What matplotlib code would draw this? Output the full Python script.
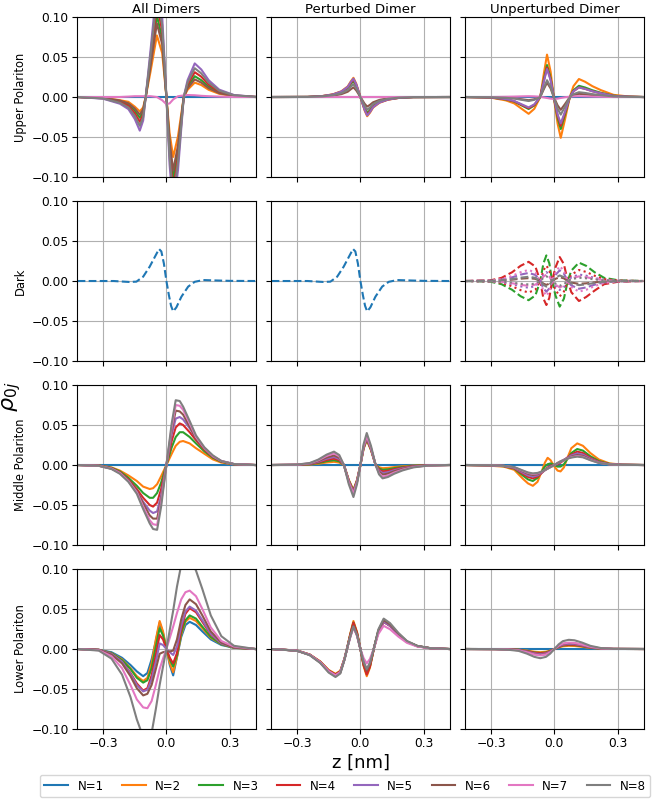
import matplotlib
matplotlib.use("Agg")
import matplotlib.pyplot as plt
from matplotlib.lines import Line2D

LABELS = ["N=1", "N=2", "N=3", "N=4", "N=5", "N=6", "N=7", "N=8"]
COLORS = ["C0", "C1", "C2", "C3", "C4", "C5", "C6", "C7"]
COL_TITLES = ["All Dimers", "Perturbed Dimer", "Unperturbed Dimer"]
ROW_TITLES = ["Upper Polariton", "Dark", "Middle Polariton", "Lower Polariton"]
X_TICKS = [-0.3, 0.0, 0.3]
Y_TICKS = [-0.10, -0.05, 0.00, 0.05, 0.10]

# ---------------- Upper polariton ----------------
Z_UP_ALL = [-0.42, -0.30, -0.22, -0.18, -0.15, -0.126, -0.11, -0.098, -0.075, -0.045, -0.02, 0.0,
            0.015, 0.032, 0.055, 0.082, 0.10, 0.134, 0.165, 0.20, 0.25, 0.32, 0.42]
UP_ALL = [
    [0, 0, 0, 0, 0, 0, 0, 0, 0, 0, 0, 0, 0, 0, 0, 0, 0, 0, 0, 0, 0, 0, 0],
    [0, -0.001, -0.004, -0.006, -0.012, -0.018, -0.013, 0, 0.032, 0.077, 0.055, 0, -0.045, -0.075, -0.049, 0, 0.009, 0.018, 0.015, 0.009, 0.004, 0.001, 0],
    [0, -0.0013, -0.0052, -0.0094, -0.0169, -0.026, -0.0182, 0, 0.043, 0.102, 0.073, 0, -0.061, -0.102, -0.066, 0, 0.013, 0.026, 0.021, 0.013, 0.0057, 0.0016, 0],
    [0, -0.0016, -0.0062, -0.0112, -0.0202, -0.031, -0.0217, 0, 0.048, 0.115, 0.083, 0, -0.069, -0.115, -0.075, 0, 0.0155, 0.031, 0.0254, 0.0155, 0.0068, 0.0019, 0.0002],
    [0, -0.0021, -0.0084, -0.0151, -0.0273, -0.042, -0.0294, 0, 0.059, 0.14, 0.101, 0, -0.084, -0.14, -0.091, 0, 0.021, 0.042, 0.0344, 0.021, 0.0092, 0.0025, 0.0002],
    [0, -0.0011, -0.0044, -0.0079, -0.0143, -0.022, -0.0154, 0, 0.039, 0.092, 0.066, 0, -0.055, -0.092, -0.060, 0, 0.011, 0.022, 0.018, 0.011, 0.0048, 0.0013, 0.0001],
    [0, 0, 0, 0.0005, 0.001, 0.001, 0.001, 0.001, 0.001, 0.0, -0.004, -0.009, -0.008, -0.003, 0.001, 0.002, 0.0025, 0.0022, 0.0015, 0.001, 0.0005, 0, 0],
    [0, -0.0018, -0.0072, -0.013, -0.0234, -0.036, -0.0252, 0, 0.053, 0.125, 0.09, 0, -0.075, -0.125, -0.081, 0, 0.018, 0.036, 0.0295, 0.018, 0.0079, 0.0022, 0.0002],
]

Z_UP_PERT = [-0.42, -0.25, -0.18, -0.13, -0.09, -0.06, -0.045, -0.033, -0.02, 0.0,
             0.02, 0.032, 0.045, 0.06, 0.09, 0.13, 0.18, 0.25, 0.42]
UP_PERT = [
    [0, 0, 0, 0, 0, 0, 0, 0, 0, 0, 0, 0, 0, 0, 0, 0, 0, 0, 0],
    [0, 0.0001, 0.0012, 0.0034, 0.0072, 0.0132, 0.0197, 0.024, 0.0168, 0, -0.0168, -0.024, -0.0197, -0.0132, -0.0072, -0.0034, -0.0012, -0.0001, 0],
    [0, 0.0001, 0.001, 0.0028, 0.006, 0.011, 0.0164, 0.020, 0.014, 0, -0.014, -0.020, -0.0164, -0.011, -0.006, -0.0028, -0.001, -0.0001, 0],
    [0, 0.0001, 0.0011, 0.0031, 0.0066, 0.0121, 0.018, 0.022, 0.0154, 0, -0.0154, -0.022, -0.018, -0.0121, -0.0066, -0.0031, -0.0011, -0.0001, 0],
    [0, 0.0001, 0.0012, 0.0032, 0.0069, 0.0127, 0.0189, 0.023, 0.0161, 0, -0.0161, -0.023, -0.0189, -0.0127, -0.0069, -0.0032, -0.0012, -0.0001, 0],
    [0, 0.0001, 0.0006, 0.0017, 0.0036, 0.0066, 0.0098, 0.012, 0.0084, 0, -0.0084, -0.012, -0.0098, -0.0066, -0.0036, -0.0017, -0.0006, -0.0001, 0],
    [0, 0, 0, 0, 0, 0, 0, 0, 0, 0, 0, 0, 0, 0, 0, 0, 0, 0, 0],
    [0, 0.0001, 0.0008, 0.0022, 0.0048, 0.0088, 0.0131, 0.016, 0.0112, 0, -0.0112, -0.016, -0.0131, -0.0088, -0.0048, -0.0022, -0.0008, -0.0001, 0],
]

Z_UP_UNPERT = [-0.42, -0.30, -0.23, -0.19, -0.155, -0.122, -0.095, -0.067, -0.05, -0.035, -0.018, -0.003,
               0.015, 0.030, 0.05, 0.073, 0.09, 0.116, 0.145, 0.18, 0.22, 0.28, 0.35, 0.42]
UP_UNPERT = [
    [0, 0, 0, 0, 0, 0, 0, 0, 0, 0, 0, 0, 0, 0, 0, 0, 0, 0, 0, 0, 0, 0, 0, 0],
    [0, -0.0008, -0.0042, -0.008, -0.0147, -0.021, -0.0147, 0, 0.0292, 0.053, 0.0318, 0, -0.0332, -0.051, -0.0281, 0, 0.0135, 0.0225, 0.0191, 0.0135, 0.0086, 0.0027, 0.0007, 0],
    [0, -0.0006, -0.003, -0.0057, -0.0105, -0.015, -0.0105, 0, 0.022, 0.040, 0.024, 0, -0.026, -0.040, -0.022, 0, 0.0084, 0.014, 0.0119, 0.0084, 0.0053, 0.0017, 0.0004, 0],
    [0, -0.0006, -0.0028, -0.0053, -0.0098, -0.014, -0.0098, 0, 0.0204, 0.037, 0.0222, 0, -0.0234, -0.036, -0.0198, 0, 0.0072, 0.012, 0.0102, 0.0072, 0.0046, 0.0014, 0.0004, 0],
    [0, -0.0005, -0.0026, -0.0049, -0.0091, -0.013, -0.0091, 0, 0.0193, 0.035, 0.021, 0, -0.0215, -0.033, -0.0182, 0, 0.0072, 0.012, 0.0102, 0.0072, 0.0046, 0.0014, 0.0004, 0],
    [0, -0.0002, -0.0008, -0.0015, -0.0028, -0.004, -0.0028, 0, 0.0099, 0.018, 0.0108, 0, -0.0104, -0.016, -0.0088, 0, 0.0024, 0.004, 0.0034, 0.0024, 0.0015, 0.0005, 0.0001, 0],
    [0, 0, 0.0003, 0.0005, 0.0008, 0.001, 0.0008, 0.0003, -0.0005, -0.0012, -0.002, -0.0025, -0.002, -0.0012, -0.0003, 0.0004, 0.0008, 0.001, 0.0008, 0.0005, 0.0003, 0, 0, 0],
    [0, -0.0002, -0.001, -0.0019, -0.0035, -0.005, -0.0035, 0, 0.0116, 0.021, 0.0126, 0, -0.0143, -0.022, -0.0121, 0, 0.0036, 0.006, 0.0051, 0.0036, 0.0023, 0.0007, 0.0002, 0],
]

# ---------------- Dark ----------------
Z_DARK = [-0.42, -0.25, -0.175, -0.142, -0.11, -0.079, -0.055, -0.035, -0.024, -0.012, 0.0,
          0.012, 0.022, 0.032, 0.047, 0.071, 0.103, 0.134, 0.174, 0.22, 0.30, 0.42]
DARK_ALL = [0, 0, -0.0012, -0.0008, 0.0054, 0.018, 0.030, 0.040, 0.037, 0.022, 0, -0.018, -0.031, -0.038, -0.033, -0.0196, -0.007, -0.001, 0.0012, 0.0008, 0.0002, 0]
DARK_PERT = [0, 0, -0.0012, -0.0008, 0.0054, 0.018, 0.030, 0.040, 0.037, 0.022, 0, -0.018, -0.031, -0.038, -0.033, -0.0196, -0.007, -0.001, 0.0012, 0.0008, 0.0002, 0]

Z_DARK_UNPERT = [-0.42, -0.30, -0.25, -0.20, -0.16, -0.122, -0.09, -0.067, -0.052, -0.038, -0.024, -0.011,
                 0.005, 0.025, 0.045, 0.063, 0.08, 0.116, 0.15, 0.19, 0.235, 0.30, 0.42]
DARK_UNPERT_N = [3, 4, 4, 5, 5, 6, 7, 7, 8, 8]
DARK_UNPERT_STYLE = ["--", "--", ":", "--", ":", "--", ":", "--", "--", ":"]
DARK_UNPERT = [
    [0, -0.001, -0.004, -0.011, -0.019, -0.024, -0.018, 0, 0.022, 0.032, 0.022, 0, -0.018, -0.032, -0.022, 0, 0.013, 0.023, 0.019, 0.011, 0.004, 0.001, 0],
    [0, 0.001, 0.004, 0.011, 0.019, 0.024, 0.018, 0, -0.022, -0.030, -0.021, 0, 0.017, 0.030, 0.021, 0, -0.014, -0.025, -0.020, -0.012, -0.004, -0.001, 0],
    [0, -0.0006, -0.0024, -0.0066, -0.0114, -0.0144, -0.0108, 0, 0.0132, 0.0192, 0.0132, 0, -0.0108, -0.0192, -0.0132, 0, 0.0078, 0.0138, 0.0114, 0.0066, 0.0024, 0.0006, 0],
    [0, 0.0004, 0.0017, 0.0046, 0.008, 0.0101, 0.0076, 0, -0.0092, -0.0134, -0.0092, 0, 0.0076, 0.0134, 0.0092, 0, -0.0055, -0.0097, -0.008, -0.0046, -0.0017, -0.0004, 0],
    [0, -0.0004, -0.0014, -0.0039, -0.0067, -0.0084, -0.0063, 0, 0.0077, 0.0112, 0.0077, 0, -0.0063, -0.0112, -0.0077, 0, 0.0046, 0.0081, 0.0067, 0.0039, 0.0014, 0.0004, 0],
    [0, 0.0002, 0.0006, 0.0017, 0.0029, 0.0036, 0.0027, 0, -0.0033, -0.0048, -0.0033, 0, 0.0027, 0.0048, 0.0033, 0, -0.002, -0.0035, -0.0029, -0.0017, -0.0006, -0.0002, 0],
    [0, 0.0006, 0.0023, 0.0064, 0.011, 0.0139, 0.0104, 0, -0.0128, -0.0186, -0.0128, 0, 0.0104, 0.0186, 0.0128, 0, -0.0075, -0.0133, -0.011, -0.0064, -0.0023, -0.0006, 0],
    [0, -0.0003, -0.001, -0.0028, -0.0048, -0.006, -0.0045, 0, 0.0055, 0.008, 0.0055, 0, -0.0045, -0.008, -0.0055, 0, 0.0033, 0.0058, 0.0048, 0.0028, 0.001, 0.0003, 0],
    [0, 0.0002, 0.0009, 0.0024, 0.0042, 0.0053, 0.004, 0, -0.0048, -0.007, -0.0048, 0, 0.004, 0.007, 0.0048, 0, -0.0029, -0.0051, -0.0042, -0.0024, -0.0009, -0.0002, 0],
    [0, -0.0002, -0.0007, -0.002, -0.0034, -0.0043, -0.0032, 0, 0.004, 0.0058, 0.004, 0, -0.0032, -0.0058, -0.004, 0, 0.0023, 0.0041, 0.0034, 0.002, 0.0007, 0.0002, 0],
]

# ---------------- Middle polariton ----------------
Z_MID_ALL = [-0.42, -0.32, -0.26, -0.22, -0.18, -0.14, -0.11, -0.079, -0.063, -0.044, -0.025, 0.0,
             0.025, 0.044, 0.063, 0.079, 0.11, 0.14, 0.18, 0.22, 0.26, 0.32, 0.42]
MID_ALL = [
    [0, 0, 0, 0, 0, 0, 0, 0, 0, 0, 0, 0, 0, 0, 0, 0, 0, 0, 0, 0, 0, 0, 0],
    [0, -0.0005, -0.003, -0.007, -0.013, -0.020, -0.027, -0.030, -0.029, -0.024, -0.014, 0, 0.014, 0.024, 0.029, 0.030, 0.027, 0.021, 0.014, 0.007, 0.003, 0.0008, 0],
    [0, -0.0006, -0.0035, -0.008, -0.016, -0.026, -0.035, -0.041, -0.041, -0.035, -0.022, 0, 0.022, 0.035, 0.041, 0.041, 0.035, 0.027, 0.017, 0.009, 0.004, 0.001, 0],
    [0, -0.0007, -0.004, -0.009, -0.018, -0.030, -0.041, -0.050, -0.052, -0.047, -0.030, 0, 0.030, 0.047, 0.052, 0.050, 0.041, 0.031, 0.019, 0.010, 0.0045, 0.001, 0],
    [0, -0.0008, -0.0045, -0.010, -0.020, -0.033, -0.046, -0.057, -0.060, -0.058, -0.038, 0, 0.038, 0.058, 0.060, 0.057, 0.046, 0.034, 0.021, 0.011, 0.005, 0.0012, 0],
    [0, -0.0009, -0.0045, -0.0095, -0.019, -0.032, -0.048, -0.063, -0.067, -0.067, -0.043, 0, 0.043, 0.068, 0.067, 0.063, 0.048, 0.033, 0.020, 0.0105, 0.0045, 0.0011, 0],
    [0, -0.001, -0.0045, -0.010, -0.020, -0.034, -0.052, -0.069, -0.074, -0.075, -0.047, 0, 0.047, 0.075, 0.074, 0.069, 0.052, 0.035, 0.021, 0.011, 0.005, 0.0012, 0],
    [0, -0.001, -0.005, -0.011, -0.021, -0.036, -0.055, -0.073, -0.080, -0.081, -0.052, 0, 0.052, 0.081, 0.080, 0.073, 0.055, 0.037, 0.022, 0.012, 0.005, 0.0012, 0],
]

Z_MID_PERT = [-0.42, -0.30, -0.24, -0.20, -0.16, -0.125, -0.10, -0.078, -0.055, -0.033, -0.016, 0.0,
              0.015, 0.030, 0.05, 0.072, 0.088, 0.105, 0.13, 0.16, 0.20, 0.25, 0.32, 0.42]
MID_PERT = [
    [0, 0, 0, 0, 0, 0, 0, 0, 0, 0, 0, 0, 0, 0, 0, 0, 0, 0, 0, 0, 0, 0, 0, 0],
    [0, 0.0001, 0.0006, 0.0016, 0.0031, 0.004, 0.003, 0, -0.0186, -0.031, -0.0186, 0, 0.0202, 0.031, 0.0186, 0, -0.0028, -0.004, -0.0036, -0.0026, -0.0016, -0.0007, -0.0002, 0],
    [0, 0.0002, 0.0009, 0.0024, 0.0047, 0.006, 0.0045, 0, -0.0192, -0.032, -0.0192, 0, 0.0208, 0.032, 0.0192, 0, -0.0042, -0.006, -0.0054, -0.0039, -0.0024, -0.0011, -0.0002, 0],
    [0, 0.0002, 0.0012, 0.0032, 0.0062, 0.008, 0.006, 0, -0.0198, -0.033, -0.0198, 0, 0.0215, 0.033, 0.0198, 0, -0.0056, -0.008, -0.0072, -0.0052, -0.0032, -0.0014, -0.0003, 0],
    [0, 0.0003, 0.0015, 0.004, 0.0078, 0.010, 0.0075, 0, -0.0204, -0.034, -0.0204, 0, 0.0221, 0.034, 0.0204, 0, -0.007, -0.010, -0.009, -0.0065, -0.004, -0.0018, -0.0004, 0],
    [0, 0.0004, 0.0018, 0.0048, 0.0094, 0.012, 0.009, 0, -0.021, -0.035, -0.021, 0, 0.0228, 0.035, 0.021, 0, -0.0084, -0.012, -0.0108, -0.0078, -0.0048, -0.0022, -0.0005, 0],
    [0, 0.0004, 0.0022, 0.0058, 0.0113, 0.0145, 0.0109, 0, -0.0216, -0.036, -0.0216, 0, 0.0234, 0.036, 0.0216, 0, -0.0102, -0.0145, -0.0131, -0.0094, -0.0058, -0.0026, -0.0006, 0],
    [0, 0.0005, 0.0025, 0.0067, 0.013, 0.0167, 0.0125, 0, -0.024, -0.040, -0.024, 0, 0.026, 0.040, 0.024, 0, -0.0117, -0.0167, -0.015, -0.0109, -0.0067, -0.003, -0.0007, 0],
]

Z_MID_UNPERT = [-0.42, -0.30, -0.24, -0.19, -0.15, -0.125, -0.102, -0.08, -0.06, -0.045, -0.032, -0.018, 0.0,
                0.015, 0.029, 0.045, 0.06, 0.08, 0.108, 0.135, 0.17, 0.21, 0.26, 0.32, 0.42]
MID_UNPERT = [
    [0, 0, 0, 0, 0, 0, 0, 0, 0, 0, 0, 0, 0, 0, 0, 0, 0, 0, 0, 0, 0, 0, 0, 0, 0],
    [0, -0.001, -0.002, -0.006, -0.017, -0.023, -0.026, -0.021, -0.008, 0.003, 0.009, 0.006, -0.002, -0.007, -0.008, -0.003, 0.008, 0.021, 0.027, 0.024, 0.015, 0.007, 0.002, 0.0005, 0],
    [0, -0.0005, -0.0015, -0.0045, -0.013, -0.018, -0.020, -0.016, -0.008, -0.002, 0.001, 0.002, 0.0, -0.002, -0.002, 0.001, 0.007, 0.015, 0.020, 0.018, 0.011, 0.005, 0.0015, 0.0004, 0],
    [0, -0.0004, -0.0013, -0.004, -0.011, -0.015, -0.0167, -0.0145, -0.010, -0.006, -0.003, -0.001, 0.0, 0.001, 0.003, 0.006, 0.009, 0.013, 0.0167, 0.015, 0.009, 0.004, 0.0012, 0.0003, 0],
    [0, -0.0004, -0.0012, -0.0036, -0.0095, -0.013, -0.0145, -0.013, -0.0095, -0.0065, -0.004, -0.002, 0.0, 0.002, 0.004, 0.0065, 0.0088, 0.012, 0.0145, 0.013, 0.008, 0.0035, 0.001, 0.0003, 0],
    [0, -0.0003, -0.001, -0.003, -0.008, -0.011, -0.0125, -0.0115, -0.009, -0.0065, -0.0045, -0.0025, 0.0, 0.0025, 0.0045, 0.0065, 0.0085, 0.0105, 0.0125, 0.0113, 0.007, 0.003, 0.0009, 0.0002, 0],
    [0, -0.0003, -0.001, -0.0028, -0.0072, -0.0098, -0.0112, -0.0105, -0.0085, -0.0063, -0.0045, -0.0025, 0.0, 0.0025, 0.0045, 0.0063, 0.008, 0.0097, 0.0112, 0.0102, 0.0063, 0.0027, 0.0008, 0.0002, 0],
    [0, -0.0003, -0.001, -0.0026, -0.0068, -0.0093, -0.0105, -0.0099, -0.0082, -0.0062, -0.0045, -0.0025, 0.0, 0.0025, 0.0045, 0.0062, 0.0078, 0.0093, 0.0105, 0.0096, 0.006, 0.0026, 0.0008, 0.0002, 0],
]

# ---------------- Lower polariton ----------------
Z_LOW_ALL = [-0.42, -0.32, -0.26, -0.21, -0.17, -0.14, -0.11, -0.09, -0.07, -0.05, -0.032, -0.016, 0.0,
             0.016, 0.032, 0.05, 0.07, 0.09, 0.11, 0.14, 0.17, 0.21, 0.26, 0.32, 0.42]
LOW_ALL = [
    [0, -0.001, -0.004, -0.011, -0.020, -0.028, -0.034, -0.030, -0.013, 0.010, 0.033, 0.020, 0.0, -0.020, -0.033, -0.010, 0.015, 0.030, 0.034, 0.030, 0.022, 0.012, 0.005, 0.0015, 0],
    [0, -0.001, -0.005, -0.013, -0.024, -0.034, -0.040, -0.036, -0.018, 0.012, 0.035, 0.022, 0.0, -0.018, -0.029, -0.010, 0.018, 0.034, 0.039, 0.035, 0.026, 0.014, 0.006, 0.0015, 0],
    [0, -0.001, -0.005, -0.014, -0.025, -0.036, -0.042, -0.039, -0.024, 0.003, 0.026, 0.017, 0.0, -0.013, -0.022, -0.008, 0.020, 0.036, 0.042, 0.038, 0.028, 0.015, 0.006, 0.0015, 0],
    [0, -0.001, -0.006, -0.016, -0.030, -0.043, -0.052, -0.049, -0.033, -0.007, 0.0175, 0.012, 0.0, -0.011, -0.018, -0.005, 0.024, 0.044, 0.051, 0.046, 0.034, 0.018, 0.007, 0.002, 0],
    [0, -0.001, -0.006, -0.016, -0.031, -0.045, -0.053, -0.051, -0.038, -0.016, 0.007, 0.005, 0.0, -0.004, -0.0075, 0.003, 0.029, 0.047, 0.053, 0.048, 0.036, 0.019, 0.007, 0.002, 0],
    [0, -0.0012, -0.007, -0.018, -0.034, -0.049, -0.058, -0.056, -0.045, -0.025, -0.006, -0.004, -0.003, -0.003, -0.002, 0.012, 0.037, 0.055, 0.062, 0.056, 0.042, 0.022, 0.008, 0.002, 0],
    [0, -0.0015, -0.009, -0.024, -0.045, -0.063, -0.073, -0.074, -0.065, -0.045, -0.025, -0.012, 0.0, 0.014, 0.028, 0.045, 0.062, 0.071, 0.073, 0.066, 0.050, 0.027, 0.010, 0.003, 0],
    [0, -0.002, -0.012, -0.032, -0.060, -0.088, -0.110, -0.115, -0.105, -0.075, -0.045, -0.022, 0.0, 0.024, 0.048, 0.078, 0.105, 0.115, 0.112, 0.098, 0.075, 0.042, 0.016, 0.004, 0],
]

Z_LOW_PERT = [-0.42, -0.30, -0.24, -0.19, -0.15, -0.118, -0.095, -0.075, -0.062, -0.048, -0.033, -0.016, 0.0,
              0.015, 0.030, 0.045, 0.065, 0.085, 0.11, 0.14, 0.18, 0.22, 0.27, 0.33, 0.42]
LOW_PERT = [
    [0, -0.002, -0.0072, -0.0165, -0.0278, -0.033, -0.0289, -0.0124, 0.0019, 0.0169, 0.031, 0.0188, 0, -0.0194, -0.031, -0.0213, 0.002, 0.022, 0.034, 0.029, 0.018, 0.009, 0.0035, 0.001, 0],
    [0, -0.0019, -0.0068, -0.0155, -0.0262, -0.031, -0.0271, -0.0116, 0.0021, 0.0191, 0.035, 0.0212, 0, -0.0213, -0.034, -0.0234, 0.002, 0.022, 0.034, 0.029, 0.018, 0.009, 0.0035, 0.001, 0],
    [0, -0.002, -0.007, -0.016, -0.027, -0.032, -0.028, -0.012, 0.002, 0.018, 0.033, 0.020, 0, -0.0194, -0.031, -0.0213, 0.0021, 0.0226, 0.035, 0.0299, 0.0185, 0.0093, 0.0036, 0.001, 0],
    [0, -0.002, -0.007, -0.016, -0.027, -0.032, -0.028, -0.012, 0.002, 0.018, 0.033, 0.020, 0, -0.020, -0.032, -0.022, 0.002, 0.022, 0.034, 0.029, 0.018, 0.009, 0.0035, 0.001, 0],
    [0, -0.002, -0.0072, -0.0165, -0.0278, -0.033, -0.0289, -0.0124, 0.0017, 0.0153, 0.028, 0.017, 0, -0.0163, -0.026, -0.0179, 0.002, 0.022, 0.034, 0.029, 0.018, 0.009, 0.0035, 0.001, 0],
    [0, -0.0021, -0.0074, -0.017, -0.0287, -0.034, -0.0298, -0.0128, 0.0018, 0.0158, 0.029, 0.0176, 0, -0.0169, -0.027, -0.0186, 0.0021, 0.0233, 0.036, 0.0307, 0.0191, 0.0095, 0.0037, 0.0011, 0],
    [0, -0.002, -0.0072, -0.0165, -0.0278, -0.033, -0.0289, -0.0124, 0.0016, 0.0147, 0.027, 0.0164, 0, -0.0113, -0.018, -0.0124, 0.0017, 0.0188, 0.029, 0.0247, 0.0154, 0.0077, 0.003, 0.0009, 0],
    [0, -0.0022, -0.0077, -0.0175, -0.0295, -0.035, -0.0306, -0.0131, 0.0017, 0.0153, 0.028, 0.017, 0, -0.0156, -0.025, -0.0172, 0.0022, 0.0246, 0.038, 0.0324, 0.0201, 0.0101, 0.0039, 0.0011, 0],
]

Z_LOW_UNPERT = [-0.42, -0.28, -0.22, -0.17, -0.13, -0.095, -0.067, -0.04, -0.02, 0.0,
                0.02, 0.04, 0.068, 0.095, 0.13, 0.17, 0.22, 0.28, 0.42]
LOW_UNPERT = [
    [0, 0, 0, 0, 0, 0, 0, 0, 0, 0, 0, 0, 0, 0, 0, 0, 0, 0, 0],
    [0, -0.0001, -0.0003, -0.0008, -0.002, -0.0034, -0.004, -0.0034, -0.002, 0, 0.002, 0.0034, 0.004, 0.0038, 0.0028, 0.0014, 0.0004, 0.0001, 0],
    [0, -0.0001, -0.0004, -0.001, -0.0025, -0.0043, -0.005, -0.0043, -0.0025, 0, 0.0025, 0.0043, 0.005, 0.0048, 0.0035, 0.0018, 0.0005, 0.0001, 0],
    [0, -0.0001, -0.0004, -0.0011, -0.0028, -0.0047, -0.0055, -0.0047, -0.0028, 0, 0.0028, 0.0047, 0.0055, 0.0052, 0.0039, 0.0019, 0.0006, 0.0001, 0],
    [0, -0.0001, -0.0005, -0.0013, -0.0033, -0.0055, -0.0065, -0.0055, -0.0033, 0, 0.0033, 0.0055, 0.0065, 0.0062, 0.0046, 0.0023, 0.0007, 0.0001, 0],
    [0, -0.0002, -0.0006, -0.0015, -0.0038, -0.0064, -0.0075, -0.0064, -0.0038, 0, 0.0038, 0.0064, 0.0075, 0.0071, 0.0053, 0.0026, 0.0008, 0.0002, 0],
    [0, -0.0002, -0.0006, -0.0016, -0.004, -0.0068, -0.008, -0.0068, -0.004, 0, 0.004, 0.0068, 0.008, 0.0076, 0.0056, 0.0028, 0.0008, 0.0002, 0],
    [0, -0.0002, -0.0009, -0.0023, -0.0058, -0.0098, -0.0115, -0.0098, -0.0058, 0, 0.0058, 0.0098, 0.0115, 0.0109, 0.0081, 0.004, 0.0012, 0.0002, 0],
]

# ---------------- Figure ----------------
fig, axes = plt.subplots(4, 3, figsize=(6.61, 7.99), dpi=100, sharex=True, sharey=True)
fig.subplots_adjust(left=0.1165, right=0.974, top=0.9787, bottom=0.0876,
                    wspace=0.085, hspace=0.15)

LW = 1.5


def draw_family(ax, z, family):
    for i, ys in enumerate(family):
        ax.plot(z, ys, color=COLORS[i], lw=LW)


draw_family(axes[0, 0], Z_UP_ALL, UP_ALL)
draw_family(axes[0, 1], Z_UP_PERT, UP_PERT)
draw_family(axes[0, 2], Z_UP_UNPERT, UP_UNPERT)

axes[1, 0].plot(Z_DARK, DARK_ALL, color=COLORS[0], lw=LW, ls="--")
axes[1, 1].plot(Z_DARK, DARK_PERT, color=COLORS[0], lw=LW, ls="--")
for n, st, ys in zip(DARK_UNPERT_N, DARK_UNPERT_STYLE, DARK_UNPERT):
    axes[1, 2].plot(Z_DARK_UNPERT, ys, color=COLORS[n - 1], lw=LW, ls=st)

draw_family(axes[2, 0], Z_MID_ALL, MID_ALL)
draw_family(axes[2, 1], Z_MID_PERT, MID_PERT)
draw_family(axes[2, 2], Z_MID_UNPERT, MID_UNPERT)

draw_family(axes[3, 0], Z_LOW_ALL, LOW_ALL)
draw_family(axes[3, 1], Z_LOW_PERT, LOW_PERT)
draw_family(axes[3, 2], Z_LOW_UNPERT, LOW_UNPERT)

for r in range(4):
    for c in range(3):
        ax = axes[r, c]
        ax.set_xlim(-0.423, 0.423)
        ax.set_ylim(-0.1, 0.1)
        ax.set_xticks(X_TICKS)
        ax.set_yticks(Y_TICKS)
        ax.grid(True, color="#b0b0b0", lw=0.8)
        ax.set_axisbelow(True)
        ax.tick_params(labelsize=8.8, length=3.5, pad=2.5)
    axes[r, 0].set_ylabel(ROW_TITLES[r], fontsize=8.3, labelpad=3)

for c in range(3):
    axes[0, c].set_title(COL_TITLES[c], fontsize=9.5, pad=3)

fig.text(0.018, 0.503, r"$\rho_{0j}$", rotation=90, fontsize=16, ha="center", va="center")
fig.text(0.546, 0.046, "z [nm]", fontsize=13, ha="center", va="center")

handles = [Line2D([0], [0], color=COLORS[i], lw=LW) for i in range(8)]
fig.legend(handles, LABELS, loc="lower center", ncol=8, fontsize=8.5,
           columnspacing=1.55, bbox_to_anchor=(0.522, 0.0), borderaxespad=0.15,
           frameon=True)

fig.savefig("out.png", dpi=100)
